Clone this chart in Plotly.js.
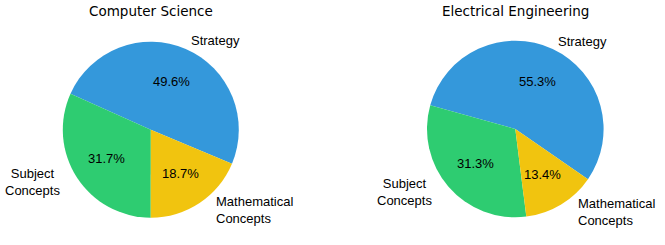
<!DOCTYPE html>
<html>
<head>
<meta charset="utf-8">
<script src="https://cdn.plot.ly/plotly-3.0.1.min.js"></script>
<style>html,body{margin:0;padding:0;background:#fff;}</style>
</head>
<body>
<div id="chart" style="width:665px;height:245px"></div>
<script>
// ---- data ----
const categories = ["Strategy", "Subject<br>Concepts", "Mathematical<br>Concepts"];
const csValues = [49.6, 31.7, 18.7];
const eeValues = [55.3, 31.3, 13.4];
const titles = ["Computer Science", "Electrical Engineering"];
const colors = ["#3498db", "#2ecc71", "#f1c40f"];

// ---- layout parameters ----
const W = 665, H = 245;
const pies = [
  {values: csValues, title: titles[0], cx: 150.8, cy: 129.7, r: 88, start: -22.7},
  {values: eeValues, title: titles[1], cx: 515.3, cy: 129.0, r: 88.3, start: -34.6}
];
const labelFont = {family: "Liberation Sans, Arial, sans-serif", size: 13, color: "#000"};
const titleFont = {family: "DejaVu Sans, sans-serif", size: 13.5, color: "#000"};

const traces = [];
const annotations = [];
pies.forEach(p => {
  const total = p.values.reduce((a, b) => a + b, 0);
  const a0 = 360 * p.values[0] / total;
  traces.push({
    type: "pie",
    labels: categories,
    values: p.values,
    sort: false,
    direction: "counterclockwise",
    // plotly (ccw): first slice occupies clockwise angles [rotation, rotation + a0] from 12 o'clock
    rotation: 90 - (p.start + a0),
    marker: {colors: colors, line: {width: 0}},
    textinfo: "none",
    hoverinfo: "none",
    showlegend: false,
    domain: {
      x: [(p.cx - p.r) / W, (p.cx + p.r) / W],
      y: [(H - p.cy - p.r) / H, (H - p.cy + p.r) / H]
    }
  });
  let cum = 0;
  p.values.forEach((v, i) => {
    const mid = (p.start + 360 * (cum + v / 2) / total) * Math.PI / 180;
    cum += v;
    const c = Math.cos(mid), s = Math.sin(mid);
    annotations.push({
      xref: "paper", yref: "paper",
      x: (p.cx + 0.6 * p.r * c) / W,
      y: (H - p.cy + 0.6 * p.r * s) / H,
      text: (v / total * 100).toFixed(1) + "%",
      showarrow: false, xanchor: "center", yanchor: "middle",
      font: labelFont
    });
    const multi = categories[i].indexOf("<br>") >= 0;
    annotations.push({
      xref: "paper", yref: "paper",
      x: (p.cx + 1.1 * p.r * c) / W,
      y: (H - p.cy + 1.1 * p.r * s) / H,
      text: categories[i],
      showarrow: false,
      xanchor: c > 0 ? "left" : "right",
      yanchor: "middle",
      align: c > 0 ? "left" : "center",
      xshift: multi ? (c > 0 ? 10 : -8) : 0,
      font: labelFont
    });
  });
  annotations.push({
    xref: "paper", yref: "paper",
    x: p.cx / W, y: (H - 11) / H,
    text: p.title, showarrow: false,
    xanchor: "center", yanchor: "middle",
    font: titleFont
  });
});

Plotly.newPlot("chart", traces, {
  width: W, height: H,
  margin: {l: 0, r: 0, t: 0, b: 0},
  paper_bgcolor: "#fff",
  annotations: annotations,
  showlegend: false
}, {staticPlot: true, displayModeBar: false});
</script>
</body>
</html>
